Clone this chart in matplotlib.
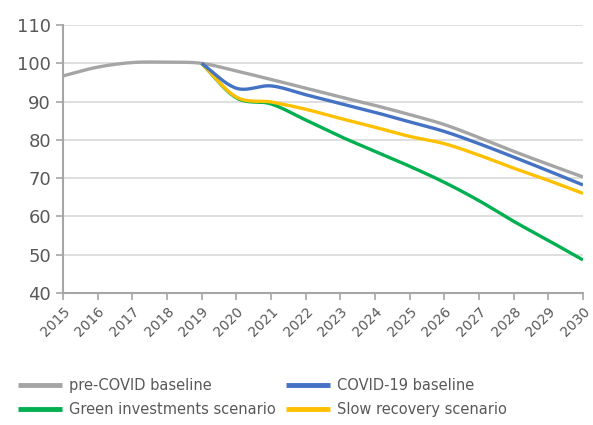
import matplotlib.pyplot as plt
import numpy as np

years = list(range(2015, 2031))
pre_covid = [96.7, 99.0, 100.2, 100.3, 100.0, 98.0, 95.8, 93.5, 91.2, 89.0, 86.6, 84.0, 80.6, 77.0, 73.6, 70.3]
covid_years = list(range(2019, 2031))
covid19 = [100.0, 93.5, 94.1, 91.8, 89.5, 87.2, 84.7, 82.2, 79.0, 75.5, 71.9, 68.2]
green = [100.0, 91.0, 89.4, 85.2, 80.9, 77.0, 73.1, 68.9, 64.1, 58.7, 53.7, 48.6]
slow = [100.0, 91.2, 89.9, 88.0, 85.6, 83.3, 80.9, 79.0, 76.0, 72.6, 69.4, 66.0]

labels = ["pre-COVID baseline", "COVID-19 baseline",
          "Green investments scenario", "Slow recovery scenario"]
colors = ["#A5A5A5", "#4472C4", "#00B050", "#FFC000"]


def smooth(x, y, n=20):
    # Catmull-Rom style smoothing, similar to Excel's smoothed lines
    x = np.asarray(x, float); y = np.asarray(y, float)
    px = np.concatenate([[2 * x[0] - x[1]], x, [2 * x[-1] - x[-2]]])
    py = np.concatenate([[2 * y[0] - y[1]], y, [2 * y[-1] - y[-2]]])
    xs, ys = [], []
    t = np.linspace(0, 1, n, endpoint=False)
    for i in range(1, len(px) - 2):
        p0, p1, p2, p3 = py[i - 1], py[i], py[i + 1], py[i + 2]
        q0, q1, q2, q3 = px[i - 1], px[i], px[i + 1], px[i + 2]
        for arr, a, b, c, d in ((ys, p0, p1, p2, p3), (xs, q0, q1, q2, q3)):
            arr.extend(0.5 * (2 * b + (-a + c) * t + (2 * a - 5 * b + 4 * c - d) * t ** 2
                              + (-a + 3 * b - 3 * c + d) * t ** 3))
    xs.append(x[-1]); ys.append(y[-1])
    return np.array(xs), np.array(ys)


fig = plt.figure(figsize=(5.93, 4.25), dpi=100)
ax = fig.add_axes([0.106, 0.311, 0.877, 0.630])

series = [(years, pre_covid), (covid_years, covid19), (covid_years, green), (covid_years, slow)]
handles = [None] * 4
for k in [0, 2, 3, 1]:
    xv, yv = series[k]
    sx, sy = smooth(xv, yv)
    handles[k], = ax.plot(sx, sy, color=colors[k], lw=2.4, label=labels[k],
                          solid_capstyle="butt", zorder=3)

ax.set_xlim(2015, 2030)
ax.set_ylim(40, 110)
ax.set_yticks(range(40, 111, 10))
ax.set_xticks(years)
ax.set_xticklabels([str(y) for y in years], rotation=45, ha="right",
                   va="top", rotation_mode="anchor")
ax.grid(axis="y", color="#D9D9D9", lw=1.2)
ax.set_axisbelow(True)
for s in ["top", "right"]:
    ax.spines[s].set_visible(False)
for s in ["left", "bottom"]:
    ax.spines[s].set_color("#A6A6A6")
    ax.spines[s].set_linewidth(1.5)
ax.tick_params(axis="both", colors="#A6A6A6", labelcolor="#595959", width=1.2, length=5)
ax.tick_params(axis="y", labelsize=13)
ax.tick_params(axis="x", labelsize=10)

# row-major legend order: matplotlib fills columns first
leg_order = [0, 2, 1, 3]
leg = fig.legend(handles=[handles[i] for i in leg_order],
                 labels=[labels[i] for i in leg_order], ncol=2, loc="lower left",
                 bbox_to_anchor=(0.008, -0.012), frameon=False, fontsize=10.5,
                 handlelength=3.0, handletextpad=0.5, columnspacing=0.7,
                 labelspacing=0.6)
for t in leg.get_texts():
    t.set_color("#595959")
for h in leg.legend_handles:
    h.set_linewidth(3.5)

fig.savefig("out.png", dpi=100)
